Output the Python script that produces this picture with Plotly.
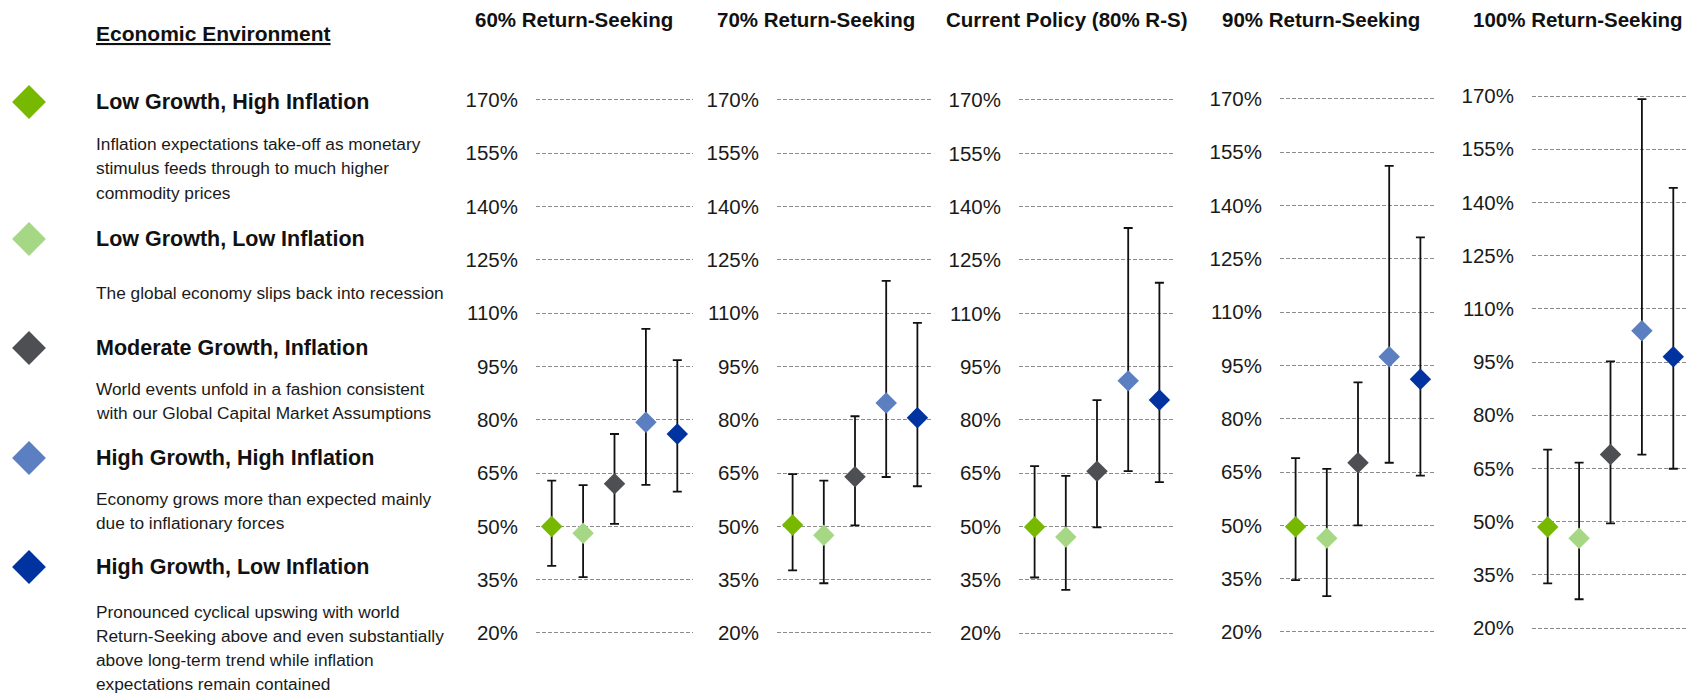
import plotly.graph_objects as go

# ---------------- data ----------------
scenarios = [
    "Low Growth, High Inflation",
    "Low Growth, Low Inflation",
    "Moderate Growth, Inflation",
    "High Growth, High Inflation",
    "High Growth, Low Inflation",
]
descriptions = [
    ["Inflation expectations take-off as monetary", "stimulus feeds through to much higher", "commodity prices"],
    ["The global economy slips back into recession"],
    ["World events unfold in a fashion consistent", "with our Global Capital Market Assumptions"],
    ["Economy grows more than expected mainly", "due to inflationary forces"],
    ["Pronounced cyclical upswing with world", "Return-Seeking above and even substantially",
     "above long-term trend while inflation", "expectations remain contained"],
]
portfolios = ["60% Return-Seeking", "70% Return-Seeking", "Current Policy (80% R-S)",
              "90% Return-Seeking", "100% Return-Seeking"]

# values in % (median, upper, lower) per scenario across the five portfolios
median_lghi = [50.0, 50.4, 49.9, 49.6, 48.5]
median_lgli = [48.1, 47.5, 47.1, 46.4, 45.3]
median_mgi = [62.0, 64.0, 65.6, 67.6, 68.9]
median_hghi = [79.3, 84.7, 91.0, 97.4, 103.8]
median_hgli = [76.0, 80.6, 85.6, 91.1, 96.5]

upper_lghi = [62.9, 64.7, 67.0, 68.9, 70.3]
upper_lgli = [61.6, 62.9, 64.3, 65.9, 66.6]
upper_mgi = [76.0, 81.0, 85.6, 90.2, 95.2]
upper_hghi = [105.6, 119.1, 134.0, 151.1, 169.1]
upper_hgli = [96.8, 107.3, 118.6, 131.0, 144.1]

lower_lghi = [38.9, 37.6, 35.7, 34.6, 32.6]
lower_lgli = [35.7, 34.0, 32.2, 30.1, 28.1]
lower_mgi = [50.7, 50.3, 49.8, 50.0, 49.5]
lower_hghi = [61.7, 63.9, 65.6, 67.6, 68.9]
lower_hgli = [59.8, 61.3, 62.5, 64.0, 64.9]

y_ticks = [20, 35, 50, 65, 80, 95, 110, 125, 140, 155, 170]
y_tick_labels = ["20%", "35%", "50%", "65%", "80%", "95%", "110%", "125%", "140%", "155%", "170%"]

medians = [median_lghi, median_lgli, median_mgi, median_hghi, median_hgli]
uppers = [upper_lghi, upper_lgli, upper_mgi, upper_hghi, upper_hgli]
lowers = [lower_lghi, lower_lgli, lower_mgi, lower_hghi, lower_hgli]

# ---------------- style / layout ----------------
W, H = 1686, 693
FONT = "Liberation Sans, Arial, sans-serif"
colors = ["#76B900", "#A6D785", "#4D4F53", "#5B7FC1", "#0033A0"]
# plot areas in pixels: x0, x1, y(20%), y(170%)
panel_px = [
    (536, 693, 633.0, 100.0),
    (777, 933, 633.0, 100.0),
    (1019, 1175, 633.3, 100.0),
    (1280, 1436, 632.0, 98.7),
    (1532, 1689, 628.0, 96.0),
]
title_centers = [574, 816, 1067, 1321, 1578]
RANGE = (10, 180)
KEY_W = 440  # width of the left key area in px

fig = go.Figure()
layout = dict(
    width=W, height=H, margin=dict(l=0, r=0, t=0, b=0),
    paper_bgcolor="white", plot_bgcolor="rgba(0,0,0,0)", showlegend=False,
    font=dict(family=FONT, color="#1a1a1a"),
)
annotations = []

for p in range(5):
    x0, x1, y20, y170 = panel_px[p]
    ppu = (y20 - y170) / 150.0
    ybot = y20 + (20 - RANGE[0]) * ppu
    ytop = y170 - (RANGE[1] - 170) * ppu
    xend = min(x1, W)
    catw = (x1 - x0) / 5.0
    ax = "" if p == 0 else str(p + 1)
    med = [medians[s][p] for s in range(5)]
    up = [uppers[s][p] - medians[s][p] for s in range(5)]
    dn = [medians[s][p] - lowers[s][p] for s in range(5)]
    fig.add_trace(go.Scatter(
        x=scenarios, y=med, mode="markers",
        xaxis="x" + ax, yaxis="y" + ax,
        marker=dict(symbol="diamond", size=16.5, color=colors, line=dict(width=0)),
        error_y=dict(type="data", symmetric=False, array=up, arrayminus=dn,
                     color="#111111", thickness=1.8, width=4.5),
        cliponaxis=False,
    ))
    layout["xaxis" + ax] = dict(
        domain=[x0 / W, xend / W], anchor="y" + ax,
        type="category", categoryorder="array", categoryarray=scenarios,
        range=[-0.5, -0.5 + (xend - x0) / catw],
        showticklabels=False, showgrid=False, zeroline=False, showline=False, ticks="",
    )
    layout["yaxis" + ax] = dict(
        domain=[1 - ybot / H, 1 - ytop / H], anchor="x" + ax,
        range=list(RANGE), tickmode="array", tickvals=y_ticks, ticktext=y_tick_labels,
        showgrid=True, gridcolor="#8c8c8c", gridwidth=1, griddash="4px,2px",
        zeroline=False, showline=False, ticks="", ticklabelstandoff=17,
        tickfont=dict(family=FONT, size=20.5, color="#1a1a1a"),
    )
    annotations.append(dict(
        text="<b>" + portfolios[p] + "</b>", xref="paper", yref="paper",
        x=title_centers[p] / W, y=1 - 19 / H, xanchor="center", yanchor="middle",
        showarrow=False, font=dict(family=FONT, size=20.5, color="#111111"),
    ))

# ---------------- left key (overlay axis in pixel units) ----------------
key_x = 29
key_y = [102, 239, 348, 458, 567]
desc_y = [[144, 168, 193], [293], [389, 413], [499, 523], [612, 636, 660, 684]]
text_x = 96

fig.add_trace(go.Scatter(
    x=[key_x] * 5, y=key_y, mode="markers", xaxis="x6", yaxis="y6",
    marker=dict(symbol="diamond", size=26, color=colors, line=dict(width=0)),
    hoverinfo="skip", cliponaxis=False,
))
layout["xaxis6"] = dict(domain=[0, KEY_W / W], range=[0, KEY_W], visible=False, anchor="y6")
layout["yaxis6"] = dict(domain=[0, 1], range=[H, 0], visible=False, anchor="x6")

annotations.append(dict(
    text="<u><b>Economic Environment</b></u>", xref="x6", yref="y6",
    x=text_x - 2, y=33, xanchor="left", yanchor="middle", showarrow=False,
    font=dict(family=FONT, size=21, color="#111111"),
))
for s in range(5):
    annotations.append(dict(
        text="<b>" + scenarios[s] + "</b>", xref="x6", yref="y6",
        x=text_x - 2, y=key_y[s], xanchor="left", yanchor="middle", showarrow=False,
        font=dict(family=FONT, size=21.5, color="#111111"),
    ))
    for line, yy in zip(descriptions[s], desc_y[s]):
        annotations.append(dict(
            text=line, xref="x6", yref="y6",
            x=text_x - 2, y=yy, xanchor="left", yanchor="middle", showarrow=False,
            font=dict(family=FONT, size=17.3, color="#1a1a1a"),
        ))

layout["annotations"] = annotations
fig.update_layout(**layout)
fig.write_html(
    "out.html",
    config={"displayModeBar": False},
    post_script="document.body.style.margin='0';document.body.style.overflow='hidden';",
)
